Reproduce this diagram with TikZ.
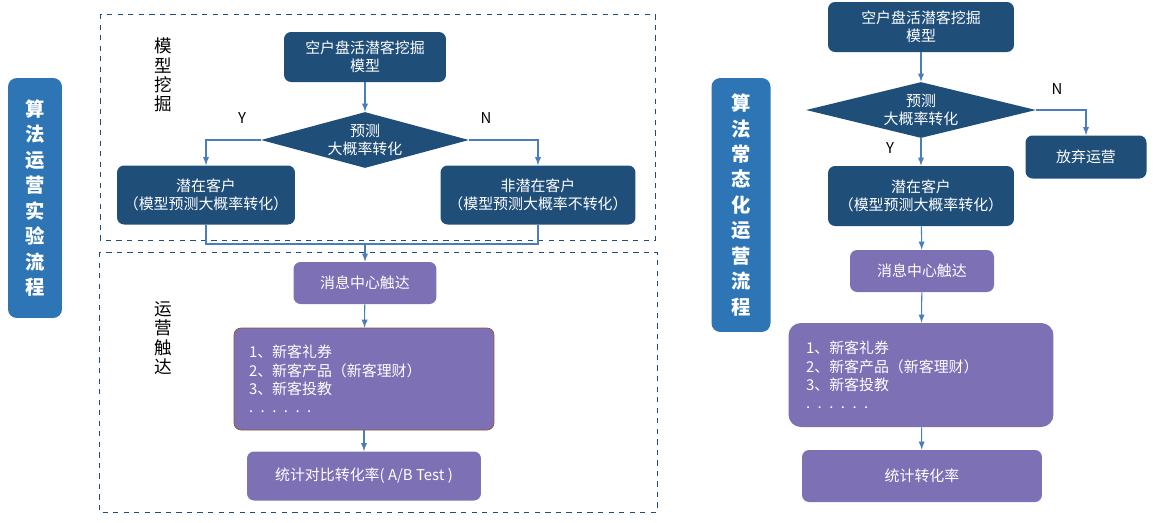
\documentclass[tikz,border=0pt]{standalone}
\usepackage{fontspec}
\setmainfont{Noto Sans CJK SC}
\usepackage{tikz}
\usetikzlibrary{shapes.geometric, arrows, positioning}
\definecolor{navy}{HTML}{1F4E79}
\definecolor{labelblue}{HTML}{2E75B6}
\definecolor{lilac}{HTML}{7E70B5}
\definecolor{linkblue}{HTML}{4A7EBB}
\begin{document}
\begin{tikzpicture}[
      x=0.02cm, y=-0.02cm,
      font=\fontsize{8.5}{10.5}\selectfont,
      proc/.style={
          rectangle,
          rounded corners=4pt,
          align=center,
          inner sep=1pt,
          text=white,
          fill=navy
        },
      touch/.style={
          rectangle,
          rounded corners=4pt,
          align=center,
          inner sep=1pt,
          text=white,
          fill=lilac
        },
      decide/.style={
          diamond,
          aspect=3.7,
          inner sep=0pt,
          align=center,
          text=white,
          fill=navy
        },
      sidebar/.style={
          rectangle,
          rounded corners=5pt,
          align=center,
          text=white,
          fill=labelblue,
          font=\fontsize{11}{14.5}\selectfont\bfseries
        },
      frame/.style={
          draw=navy,
          dashed,
          thin
        },
      arrow/.style={
          -latex,
          draw=linkblue,
          semithick
        }
    ]
    \useasboundingbox (0,0) rectangle (1159,522);

    % Frames and side labels
    \draw[frame] (100,14) rectangle (655,240);
    \draw[frame] (99,252) rectangle (657,512);
    \node[sidebar, minimum width=1.08cm, minimum height=4.8cm] (lbar) at (35,198)
        {算\\法\\运\\营\\实\\验\\流\\程};
    \node[sidebar, minimum width=1.18cm, minimum height=5.08cm] (rbar) at (741,205)
        {算\\法\\常\\态\\化\\运\\营\\流\\程};
    \node[align=center, font=\fontsize{10}{11}\selectfont] (mine) at (163,75) {模\\型\\挖\\掘};
    \node[align=center, font=\fontsize{10}{11}\selectfont] (reach) at (163,338) {运\\营\\触\\达};

    % Left flow
    \node[proc, minimum width=3.24cm, minimum height=1cm] (model) at (365,57) {空户盘活潜客挖掘\\模型};
    \node[decide, minimum width=4.16cm, minimum height=1.12cm] (pred) at (365,140) {预测\\大概率转化};
    \node[proc, minimum width=3.56cm, minimum height=1.18cm] (yes) at (206,195) {潜在客户\\（模型预测大概率转化）};
    \node[proc, minimum width=3.9cm, minimum height=1.18cm] (no) at (538,195) {非潜在客户\\（模型预测大概率不转化）};
    \node[touch, minimum width=2.86cm, minimum height=0.84cm] (msg) at (365,283) {消息中心触达};
    \node[touch, draw=brown!70!black, minimum width=5.2cm, minimum height=2.04cm,
          text width=4.6cm, align=left] (offer) at (364,379)
        {1、新客礼券\\2、新客产品（新客理财）\\3、新客投教\\. . . . . .};
    \node[touch, minimum width=4.68cm, minimum height=0.98cm] (stat) at (364,476) {统计对比转化率( A/B Test )};
    \node (ylab) at (242,118) {Y};
    \node (nlab) at (486,118) {N};
    \coordinate (join) at (365,244);

    \draw[arrow] (model) -- (pred);
    \draw[arrow] (pred.west) -| (yes.north);
    \draw[arrow] (pred.east) -| (no.north);
    \draw[draw=linkblue, semithick] (yes.south) |- (join);
    \draw[draw=linkblue, semithick] (no.south) |- (join);
    \draw[arrow] (join) -- (msg);
    \draw[arrow] (msg) -- (offer);
    \draw[arrow] (offer) -- (stat);

    % Right flow
    \node[proc, minimum width=3.72cm, minimum height=1cm] (model2) at (921,27) {空户盘活潜客挖掘\\模型};
    \node[decide, minimum width=4.6cm, minimum height=1.12cm] (pred2) at (921,110) {预测\\大概率转化};
    \node[proc, minimum width=2.42cm, minimum height=0.86cm] (drop) at (1086,157) {放弃运营};
    \node[proc, minimum width=3.72cm, minimum height=1.2cm] (yes2) at (921,196) {潜在客户\\（模型预测大概率转化）};
    \node[touch, minimum width=2.88cm, minimum height=0.84cm] (msg2) at (922,271) {消息中心触达};
    \node[touch, rounded corners=7pt, minimum width=5.3cm, minimum height=2.08cm,
          text width=4.6cm, align=left] (offer2) at (921,375)
        {1、新客礼券\\2、新客产品（新客理财）\\3、新客投教\\. . . . . .};
    \node[touch, minimum width=4.8cm, minimum height=1.04cm] (stat2) at (922,476) {统计转化率};
    \node (ylab2) at (890,148) {Y};
    \node (nlab2) at (1057,89) {N};

    \draw[arrow] (model2) -- (pred2);
    \draw[arrow] (pred2.east) -| (drop.north);
    \draw[arrow] (pred2.south) -- (yes2.north);
    \draw[arrow] (yes2) -- (msg2);
    \draw[arrow] (msg2) -- (offer2);
    \draw[arrow] (offer2) -- (stat2);

  \end{tikzpicture}
\end{document}
